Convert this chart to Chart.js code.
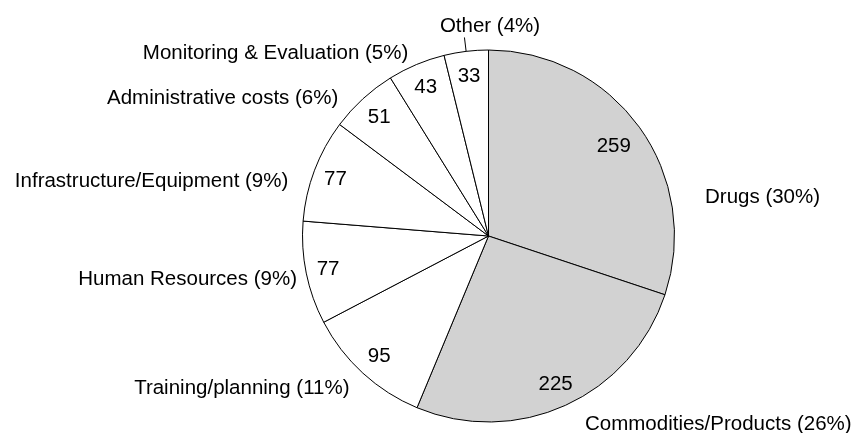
<!DOCTYPE html>
<html>
<head>
<meta charset="utf-8">
<script src="https://cdn.jsdelivr.net/npm/chart.js@4/dist/chart.umd.min.js"></script>
<style>
  html, body { margin: 0; padding: 0; background: #fff; }
  canvas { display: block; }
</style>
</head>
<body>
<canvas id="budget-pie" width="860" height="433"></canvas>
<script>
// Budget categories, clockwise from 12 o'clock
const categories = [
  "Drugs",
  "Commodities/Products",
  "Training/planning",
  "Human Resources",
  "Infrastructure/Equipment",
  "Administrative costs",
  "Monitoring & Evaluation",
  "Other",
];
const amounts = [259, 225, 95, 77, 77, 51, 43, 33];
const shares = ["30%", "26%", "11%", "9%", "9%", "6%", "5%", "4%"];

// Where each outer label sits, relative to the pie centre
const labelSpots = [
  { dx: 216.5, dy: -33, align: "left" },
  { dx: 96.5, dy: 194, align: "left" },
  { dx: -139, dy: 158.3, align: "right" },
  { dx: -191.5, dy: 49, align: "right" },
  { dx: -200.2, dy: -49.3, align: "right" },
  { dx: -150.2, dy: -132, align: "right" },
  { dx: -80.2, dy: -177, align: "right" },
  { dx: 1.5, dy: -204, align: "center" },
];
const valueRadius = [0.83, 0.87, 0.87, 0.88, 0.88, 0.87, 0.87, 0.87];

const FONT = "20.5px 'Liberation Sans', Arial, sans-serif";

const pieLabels = {
  id: "pieLabels",
  afterDraw(chart) {
    const ctx = chart.ctx;
    const arcs = chart.getDatasetMeta(0).data;
    ctx.save();
    ctx.font = FONT;
    ctx.fillStyle = "#000";
    ctx.strokeStyle = "#000";
    ctx.lineWidth = 1;
    arcs.forEach((arc, i) => {
      const { x, y, startAngle, endAngle, outerRadius } = arc.getProps(
        ["x", "y", "startAngle", "endAngle", "outerRadius"], true
      );
      const mid = (startAngle + endAngle) / 2;
      // value inside the slice
      const r = outerRadius * valueRadius[i];
      ctx.textAlign = "center";
      ctx.textBaseline = "middle";
      ctx.fillText(String(amounts[i]), x + Math.cos(mid) * r, y + Math.sin(mid) * r + 1);
      // category label outside
      const spot = labelSpots[i];
      ctx.textAlign = spot.align;
      ctx.textBaseline = "alphabetic";
      ctx.fillText(categories[i] + " (" + shares[i] + ")", x + spot.dx, y + spot.dy);
    });
    // small tick for the last slice
    const last = arcs[arcs.length - 1].getProps(["x", "y", "startAngle", "endAngle", "outerRadius"], true);
    const m = (last.startAngle + last.endAngle) / 2;
    ctx.beginPath();
    ctx.moveTo(last.x + Math.cos(m) * last.outerRadius, last.y + Math.sin(m) * last.outerRadius);
    ctx.lineTo(last.x + Math.cos(m) * (last.outerRadius + 14), last.y + Math.sin(m) * (last.outerRadius + 14));
    ctx.stroke();
    ctx.restore();
  },
};

const ctx = document.getElementById("budget-pie").getContext("2d");
new Chart(ctx, {
  type: "pie",
  data: {
    labels: categories,
    datasets: [
      {
        data: amounts,
        backgroundColor: amounts.map((v, i) => (i < 2 ? "#d2d2d2" : "#ffffff")),
        borderColor: "#000000",
        borderWidth: 1,
        hoverOffset: 0,
      },
    ],
  },
  options: {
    responsive: false,
    animation: false,
    layout: {
      padding: { left: 288.5, right: 171.5, top: 49.5, bottom: 10.5 },
    },
    plugins: {
      legend: { display: false },
      tooltip: { enabled: false },
    },
    elements: { arc: { borderJoinStyle: "miter" } },
  },
  plugins: [pieLabels],
});
</script>
</body>
</html>
